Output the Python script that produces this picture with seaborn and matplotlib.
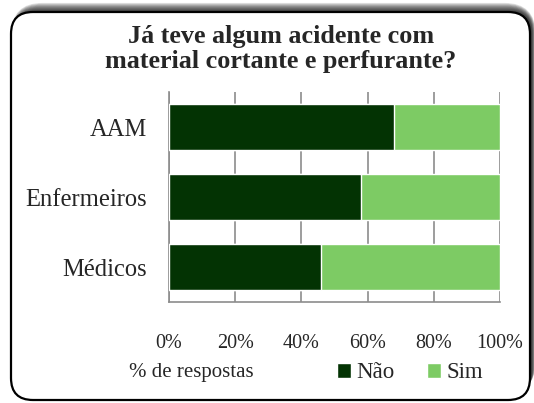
import numpy as np
import pandas as pd
import matplotlib
matplotlib.use('Agg')
import matplotlib.pyplot as plt
from matplotlib.patches import FancyBboxPatch, Patch
import seaborn as sns

# data (percent of answers)
categories = ['AAM', 'Enfermeiros', 'Médicos']
nao = [68, 58, 46]
sim = [32, 42, 54]
xticks = [0, 20, 40, 60, 80, 100]

col_nao = '#033303'
col_sim = '#7dcb64'
grid_col = '#8c8c8c'
serif = ['Liberation Serif', 'DejaVu Serif']

sns.set_theme(style='white')
plt.rcParams['font.family'] = serif

df = pd.DataFrame({'grupo': categories, 'Não': nao, 'Sim': sim})
df['total'] = df['Não'] + df['Sim']

W, H = 534, 403
fig = plt.figure(figsize=(W / 100, H / 100), dpi=100)
fig.patch.set_facecolor('white')

# rounded frame with soft shadow (pixel -> inch coords)
px = lambda v: v / 100.0
for i in range(10):
    sh = FancyBboxPatch((px(15 - i * 0.4), px(10)), px(517 + i * 0.8), px(382 + i * 0.9),
                        boxstyle='round,pad=0,rounding_size=%f' % px(22 + i),
                        transform=fig.dpi_scale_trans, facecolor='black',
                        edgecolor='none', alpha=0.12, zorder=0)
    fig.patches.append(sh)
frame = FancyBboxPatch((px(11), px(3)), px(519), px(388),
                       boxstyle='round,pad=0,rounding_size=%f' % px(22),
                       transform=fig.dpi_scale_trans, facecolor='white',
                       edgecolor='black', linewidth=1.6, zorder=1)
fig.patches.append(frame)

ax = fig.add_axes([169 / W, 1 - 302 / H, 331 / W, 210 / H])
ax.set_facecolor('none')
ax.set_zorder(2)

sns.barplot(data=df, y='grupo', x='total', orient='h', color=col_sim,
            width=0.67, saturation=1, ax=ax, zorder=3)
sns.barplot(data=df, y='grupo', x='Não', orient='h', color=col_nao,
            width=0.67, saturation=1, ax=ax, zorder=4)

ax.set_xlim(0, 100)
ax.set_ylim(2.5, -0.5)
ax.set_xticks(xticks)
ax.set_xticklabels(['%d%%' % t for t in xticks], fontsize=14.5, family=serif)
ax.set_yticks(range(len(categories)))
ax.set_yticklabels(categories, fontsize=17.7, family=serif)
ax.tick_params(axis='x', length=0, pad=23)
ax.tick_params(axis='y', length=0, pad=16)
ax.set_xlabel('')
ax.set_ylabel('')
ax.grid(axis='x', color=grid_col, linewidth=1.2, zorder=1)
ax.set_axisbelow(True)
for s in ['top', 'right']:
    ax.spines[s].set_visible(False)
for s in ['left', 'bottom']:
    ax.spines[s].set_color(grid_col)
    ax.spines[s].set_linewidth(1.2)

fig.text(281 / W, 1 - 49 / H, 'Já teve algum acidente com\nmaterial cortante e perfurante?',
         ha='center', va='center', fontsize=18.8, fontweight='bold', linespacing=1.08,
         family=serif)
fig.text(191 / W, 1 - 372 / H, '% de respostas', ha='center', va='center', fontsize=15,
         family=serif)

handles = [Patch(facecolor=col_nao), Patch(facecolor=col_sim)]
fig.legend(handles, ['Não', 'Sim'], loc='center', bbox_to_anchor=(410 / W, 1 - 373 / H),
           ncol=2, frameon=False, prop={'family': serif, 'size': 16.5},
           handlelength=0.6, handleheight=0.6,
           handletextpad=0.25, columnspacing=1.4, borderpad=0)

fig.savefig('out.png', dpi=100)
